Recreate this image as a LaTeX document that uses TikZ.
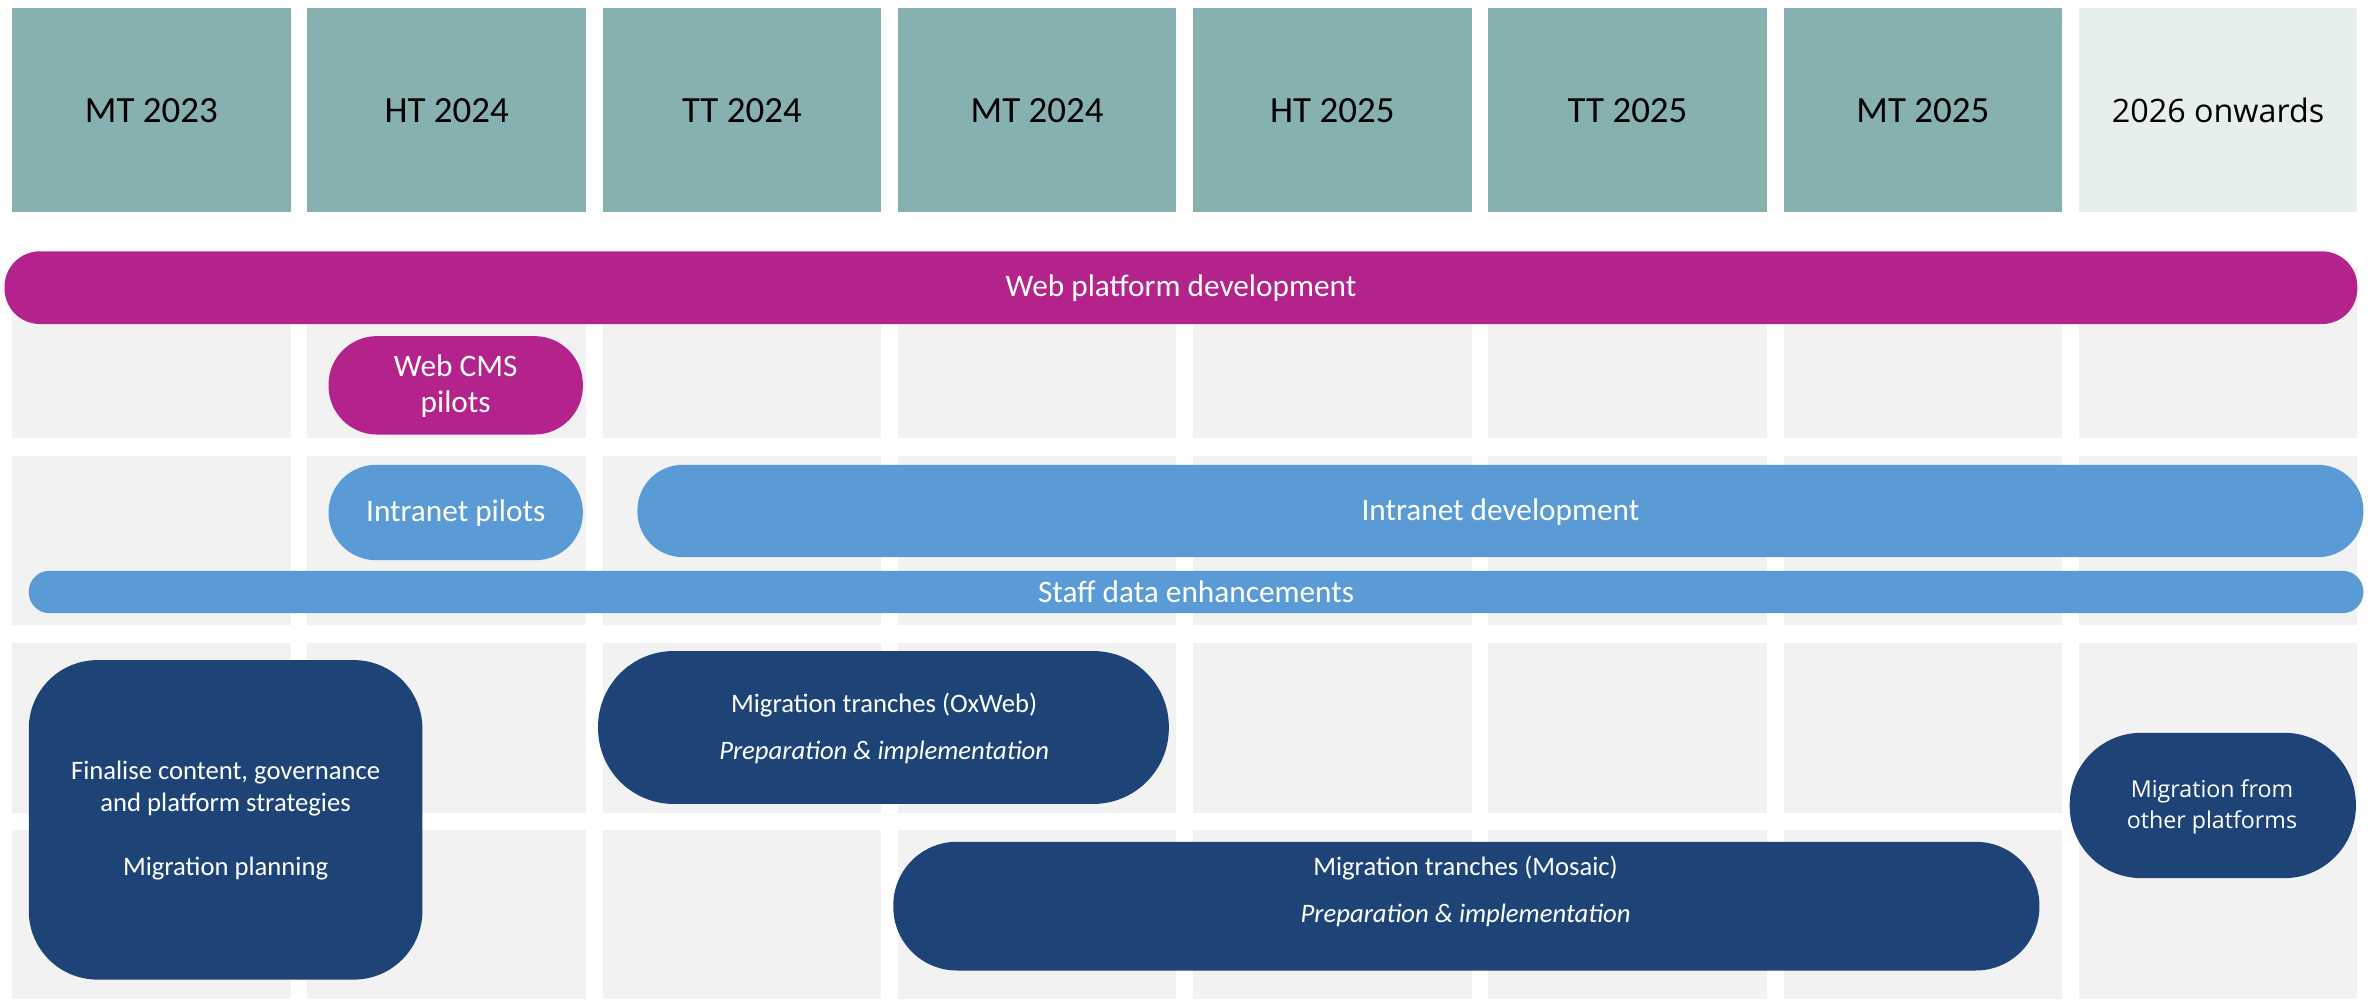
\documentclass[tikz,border=0pt]{standalone}
\usepackage{fontspec}
\setmainfont{Carlito}
\newfontfamily\segoefont{Open Sans}
\usepackage{tikz}
\definecolor{termteal}{RGB}{135,177,176}
\definecolor{termlight}{RGB}{230,239,238}
\definecolor{cellgray}{RGB}{242,242,242}
\definecolor{webpink}{RGB}{179,35,139}
\definecolor{intrablue}{RGB}{91,155,213}
\definecolor{migrnavy}{RGB}{30,68,119}

\begin{document}
\begin{tikzpicture}[x=0.75pt,y=0.75pt,yscale=-1,xscale=1,
  term/.style={font=\fontsize{18.3}{22}\selectfont, text=black, inner sep=0.75pt},
  barlabel/.style={font=\fontsize{15.5}{18}\selectfont, text=white, inner sep=0.75pt, align=center},
  navylabel/.style={font=\fontsize{13.2}{15.75}\selectfont, text=white, inner sep=0.75pt, align=center}]
\useasboundingbox (0,0) rectangle (1568,660);

%Shape: term headers
\fill [termteal] (8,5) rectangle (192,140);
\fill [termteal] (203,5) rectangle (387,140);
\fill [termteal] (398,5) rectangle (582,140);
\fill [termteal] (593,5) rectangle (777,140);
\fill [termteal] (788,5) rectangle (972,140);
\fill [termteal] (983,5) rectangle (1167,140);
\fill [termteal] (1178,5) rectangle (1362,140);
\fill [termlight] (1373,5) rectangle (1557,140);

%Shape: grid cells
\foreach \col in {0,...,7}
  \foreach \top in {177,301,425,548}
    \fill [cellgray] (8+195*\col,\top) rectangle ++(184,112);

% Text Node
\node [term] (mt23) at (100,73) {MT 2023};
\node [term] (ht24) at (295,73) {HT 2024};
\node [term] (tt24) at (490,73) {TT 2024};
\node [term] (mt24) at (685,73) {MT 2024};
\node [term] (ht25) at (880,73) {HT 2025};
\node [term] (tt25) at (1075,73) {TT 2025};
\node [term] (mt25) at (1270,73) {MT 2025};
\node [term, font=\segoefont\fontsize{16}{20}\selectfont] (onwards) at (1465,73) {2026 onwards};

%Shape: web bars
\fill [webpink, rounded corners=17.5pt] (3,166) rectangle (1557,214);
\fill [webpink, rounded corners=24pt] (217,222) rectangle (385,287);

%Shape: intranet bars
\fill [intrablue, rounded corners=23.5pt] (217,307) rectangle (385,370);
\fill [intrablue, rounded corners=22.5pt] (421,307) rectangle (1561,368);
\fill [intrablue, rounded corners=10.3pt] (19,377) rectangle (1561,405);

%Shape: migration boxes
\fill [migrnavy, rounded corners=34pt] (19,436) rectangle (279,647);
\fill [migrnavy, rounded corners=37.5pt] (395,430) rectangle (772,531);
\fill [migrnavy, rounded corners=31.5pt] (590,556) rectangle (1347,641);
\fill [migrnavy, rounded corners=35.5pt] (1367,484) rectangle (1556,580);

% Text Node
\node [barlabel] (webdev) at (780,190) {Web platform development};
\node [barlabel] (cmspilot) at (301,255) {Web CMS\\pilots};
\node [barlabel] (intrapilot) at (301,339) {Intranet pilots};
\node [barlabel] (intradev) at (991,338) {Intranet development};
\node [barlabel] (staffdata) at (790,391) {Staff data enhancements};
% Text Node
\node [navylabel] (planning) at (149,542) {Finalise content, governance\\and platform strategies\\[15.75pt]Migration planning};
\node [navylabel] (oxweb) at (584,481) {Migration tranches (OxWeb)\\[7.5pt]\textit{Preparation \& implementation}};
\node [navylabel] (mosaic) at (968,589) {Migration tranches (Mosaic)\\[7.5pt]\textit{Preparation \& implementation}};
\node [navylabel, font=\segoefont\fontsize{11.5}{15.75}\selectfont] (otherplat) at (1461,533) {Migration from\\other platforms};

\end{tikzpicture}
\end{document}
